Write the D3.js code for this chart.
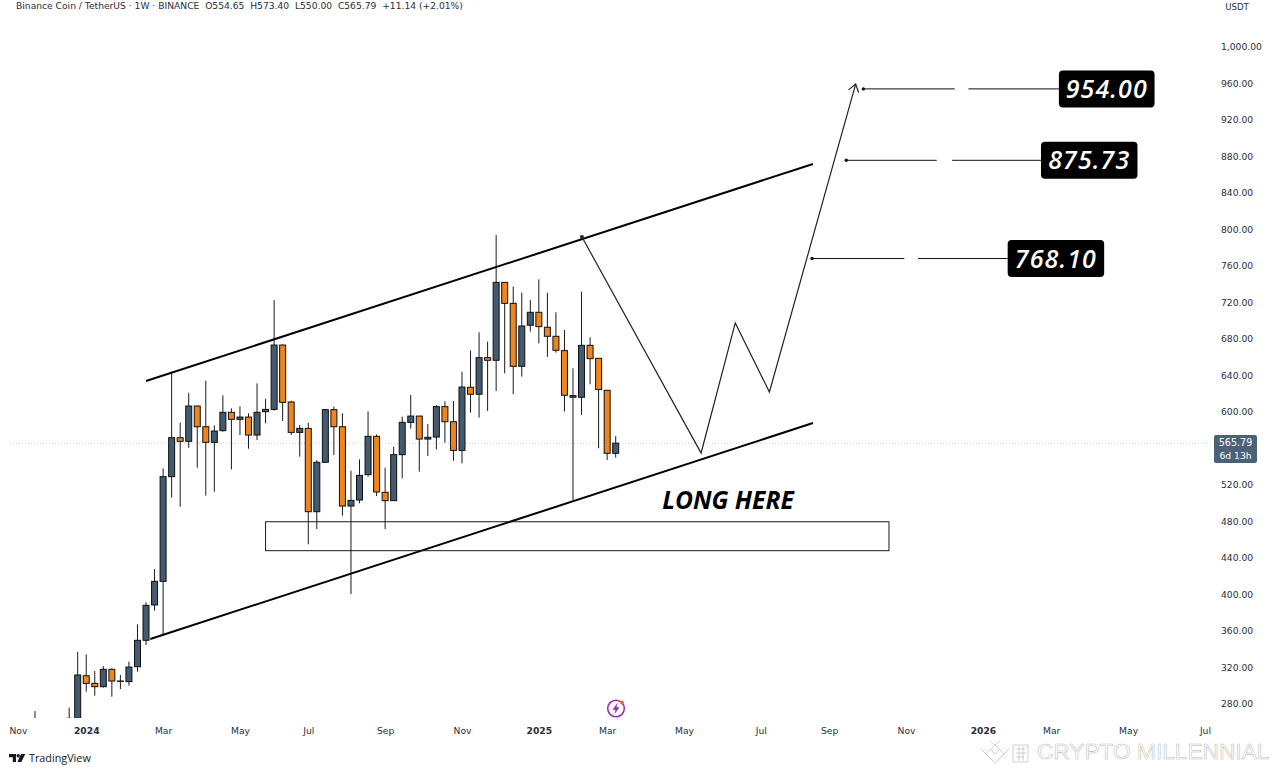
<!DOCTYPE html>
<html><head><meta charset="utf-8">
<script src="https://cdn.jsdelivr.net/npm/d3@7/dist/d3.min.js"></script>
<style>
html,body{margin:0;padding:0;background:#fff;overflow:hidden}
svg{display:block}
.ax text{font-family:"DejaVu Sans",sans-serif;font-size:9.2px;fill:#2a2e39}
</style></head><body>
<svg id="c" width="1280" height="773"></svg>
<script>
const earlyBars=[-5,-1];
const opens=[252,258,264.3,311,302.6,299,318,304.8,304.5,320.9,349.8,388.5,414.4,529.1,571.8,567.8,606.5,583.8,566.7,579.5,599.6,591.9,594.4,574.7,600.3,602.8,673.3,610.9,577.6,582,490.7,544.8,602.5,583.8,496.9,503.5,531.3,573.3,511.9,502.8,553.2,588.6,595.5,570.3,572.5,605.8,589.3,557.9,627,619.4,659.5,656.6,742,719,650,695,709.2,692.8,682.9,667.2,616.1,616.1,673,658.8,623.7,554.65];
const highs=[272.3,276,337.3,334.4,316.1,321.6,319.1,311.8,326.4,367.3,391.4,427.9,538.2,644.1,588.2,621.1,606.9,634.2,585.3,618.2,603.9,606.1,598.5,631.3,614.5,722.7,674,612.3,585.7,588.2,547.3,603.2,605.8,598.5,535.6,548,600.6,575.4,538.9,561.9,594.8,618.5,595.5,586.8,607.6,611.6,612,644.1,667.2,687.3,677.1,793.9,742,737.3,730.7,722.7,745.3,730.7,709.2,689.8,647.8,731.8,681.8,658.8,623.7,573.4];
const lows=[250,256,262,293.5,289.1,298,288,296.4,300.1,315.4,344.6,382.3,355.6,506.1,496.2,560.8,538.9,508.3,512.6,578.5,537.1,574.7,559.7,569.2,587.5,601.4,590.1,574.7,551,455,471.7,544.8,552.8,486.3,400.5,499.9,529.1,507.9,471.7,502.8,527.2,581.7,534.5,551.7,559,566.3,546.6,543.7,599.3,593.8,601.1,623,642.4,619.4,638.7,688,675.2,660.3,665,600.4,503.6,596.7,630.3,560.2,547.4,550];
const closes=[258,264.3,311.8,302.6,299,318,305.2,305.2,320.5,349.8,388.1,414.4,529.1,571.8,567.8,606.5,583.8,566.7,579.1,599.6,591.9,594.4,574.7,599.6,602.8,673.3,610.5,577.6,582,490.7,544.8,602.5,583.8,496.9,503.1,530.5,573.3,512.3,502.8,553.2,588.6,595.5,570.3,572.2,605.8,589.3,557.9,627.3,619.4,659.5,656.6,742,719,650,694.2,709.2,693.5,682.9,667.6,618.3,617.9,673,658.4,624.5,554.7,565.79];

const priceTicks=[280,320,360,400,440,480,520,600,640,680,720,760,800,840,880,920,960,1000];
const timeTickBars=[-7,1,10,19,27,36,45,54,62,71,80,88,97,106,114,123,132];
const timeTickLabels=["Nov","2024","Mar","May","Jul","Sep","Nov","2025","Mar","May","Jul","Sep","Nov","2026","Mar","May","Jul"];
const boldLabels=["2024","2025","2026"];

const upperChannelBars=[8,86.1], upperChannelPrices=[633.9,871.7];
const lowerChannelBars=[8.5,86.1], lowerChannelPrices=[351.2,587.9];
const zoneBars=[22,95], zonePrices=[479.7,448];
const pathBars=[59.05,73,77,81,91.1], pathPrices=[791.7,555,697.5,621.9,959.3];

const targetPrices=[954,875.73,768.10];
const targetLabels=["954.00","875.73","768.10"];
const targetStartBars=[92,90,86];
const targetGapStart=[102.7,100.6,96.8];
const targetGapEnd=[104.3,102.4,98.4];
const targetBoxLeft=[114.9,112.8,108.9];
const targetBoxRight=[126.1,124.1,120.2];

const lastPrice=565.79;
const headerText="Binance Coin / TetherUS · 1W · BINANCE  O554.65  H573.40  L550.00  C565.79  +11.14 (+2.01%)";

const UP="#435a70",DOWN="#ef8420",INK="#101010";
const bars=earlyBars.concat(d3.range(64));
const x=d3.scaleLinear().domain([0,63]).range([77.7,615.7]);
const y=d3.scaleLinear().domain([280,960]).range([704,83.4]);

const svg=d3.select("#c");
svg.append("defs").append("clipPath").attr("id","plot").append("rect").attr("x",0).attr("y",0).attr("width",1212).attr("height",718);
const mk=svg.select("defs").append("marker").attr("id","arrow").attr("viewBox","-8 -6 10 12").attr("refX",0).attr("refY",0)
 .attr("markerUnits","userSpaceOnUse").attr("markerWidth",14).attr("markerHeight",14).attr("orient","auto");
mk.append("path").attr("d","M-6.5,-4.5L0,0L-6.5,4.5").attr("fill","none").attr("stroke","#222").attr("stroke-width",1);

// last price line
svg.append("line").attr("x1",10).attr("x2",1212).attr("y1",y(lastPrice)).attr("y2",y(lastPrice))
 .attr("stroke","#c9ccd2").attr("stroke-width",1).attr("stroke-dasharray","1 2");

// candles
const plot=svg.append("g").attr("clip-path","url(#plot)");
const rows=bars.map((b,i)=>({b,o:opens[i],h:highs[i],l:lows[i],c:closes[i]}));
plot.selectAll("line.w").data(rows).join("line").attr("class","w")
 .attr("x1",d=>x(d.b)).attr("x2",d=>x(d.b)).attr("y1",d=>y(d.h)).attr("y2",d=>y(d.l))
 .attr("stroke","#1a1a1a").attr("stroke-width",1);
plot.selectAll("rect.b").data(rows).join("rect").attr("class","b")
 .attr("x",d=>x(d.b)-3).attr("width",6)
 .attr("y",d=>y(Math.max(d.o,d.c))).attr("height",d=>Math.max(0.4,Math.abs(y(d.o)-y(d.c))))
 .attr("fill",d=>d.c>=d.o?UP:DOWN).attr("stroke",INK).attr("stroke-width",1);

// channels
const chan=(bs,ps)=>svg.append("line").attr("x1",x(bs[0])).attr("x2",x(bs[1])).attr("y1",y(ps[0])).attr("y2",y(ps[1]))
 .attr("stroke","#000").attr("stroke-width",2);
chan(upperChannelBars,upperChannelPrices);
chan(lowerChannelBars,lowerChannelPrices);

// zone
svg.append("rect").attr("x",x(zoneBars[0])).attr("width",x(zoneBars[1])-x(zoneBars[0]))
 .attr("y",y(zonePrices[0])).attr("height",y(zonePrices[1])-y(zonePrices[0]))
 .attr("fill","none").attr("stroke","#1a1a1a").attr("stroke-width",1);

svg.append("text").attr("x",728).attr("y",509).attr("text-anchor","middle")
 .attr("font-family","'Open Sans',sans-serif").attr("font-style","italic").attr("font-weight",700)
 .attr("font-size",24.6).attr("fill","#000").text("LONG HERE");

// forecast
const ln=d3.line().x(d=>x(d[0])).y(d=>y(d[1]));
svg.append("path").attr("d",ln(d3.zip(pathBars,pathPrices))).attr("fill","none").attr("stroke","#222").attr("stroke-width",1.2)
 .attr("marker-end","url(#arrow)");
svg.append("circle").attr("cx",x(pathBars[0])).attr("cy",y(pathPrices[0])).attr("r",2).attr("fill","#222");

// targets
targetPrices.forEach((p,i)=>{
 const g=svg.append("g"), yy=y(p);
 g.append("circle").attr("cx",x(targetStartBars[i])).attr("cy",yy).attr("r",1.7).attr("fill","#111");
 g.append("line").attr("x1",x(targetStartBars[i])).attr("x2",x(targetGapStart[i])).attr("y1",yy).attr("y2",yy).attr("stroke","#111");
 g.append("line").attr("x1",x(targetGapEnd[i])).attr("x2",x(targetBoxLeft[i])).attr("y1",yy).attr("y2",yy).attr("stroke","#111");
 const l=x(targetBoxLeft[i]),r=x(targetBoxRight[i]);
 g.append("rect").attr("x",l).attr("width",r-l).attr("y",yy-18.5).attr("height",37).attr("rx",4).attr("fill","#000");
 g.append("text").attr("x",(l+r)/2).attr("y",yy+9).attr("text-anchor","middle")
  .attr("font-family","'Open Sans',sans-serif").attr("font-style","italic").attr("font-weight",600)
  .attr("font-size",25).attr("letter-spacing",1.1).attr("fill","#fff").text(targetLabels[i]);
});

// axes
const yAxis=d3.axisRight(y).tickValues(priceTicks).tickFormat(d3.format(",.2f")).tickSize(0).tickPadding(0);
const ya=svg.append("g").attr("class","ax").attr("transform","translate(1221,0)").call(yAxis);
ya.select(".domain").remove();
const xAxis=d3.axisBottom(x).tickValues(timeTickBars).tickFormat((d,i)=>timeTickLabels[i]).tickSize(0).tickPadding(0);
const xa=svg.append("g").attr("class","ax").attr("transform","translate(0,727)").call(xAxis);
xa.select(".domain").remove();
xa.selectAll("text").style("font-weight",function(){return boldLabels.includes(this.textContent)?700:400});

const T=(s,xx,yy,o={})=>svg.append("text").attr("x",xx).attr("y",yy).attr("font-family",o.f||"'DejaVu Sans',sans-serif")
 .attr("font-size",o.s||9.2).attr("fill",o.c||"#2a2e39").attr("text-anchor",o.a||"start").attr("font-weight",o.w||400)
 .style("white-space","pre").text(s);
T(headerText,16,9,{s:9.17});
T("USDT",1237,10,{a:"middle",s:8.6});

// last price tag
svg.append("rect").attr("x",1214).attr("y",435).attr("width",43).attr("height",28).attr("rx",2).attr("fill","#4a6178");
T(lastPrice.toFixed(2),1235.5,446,{a:"middle",c:"#fff",s:9.6});
T("6d 13h",1235.5,459,{a:"middle",c:"#fff",s:9.2});

// lightning badge
const bg=svg.append("g").attr("transform","translate(616,708.5)");
bg.append("circle").attr("r",8.3).attr("fill","#fff").attr("stroke","#9c27b0").attr("stroke-width",1.5);
bg.append("path").attr("d","M1.8,-6L-3.5,1.2H-0.4L-1.8,6L3.5,-1.2H0.4Z").attr("fill","#9c27b0");
bg.append("circle").attr("cx",6).attr("cy",-6).attr("r",2).attr("fill","#e8701a");

// TradingView logo
const tv=svg.append("g").attr("transform","translate(9,754)").attr("fill","#131722");
tv.append("path").attr("d","M0,0H7V8H3.8V3.2H0Z");
tv.append("circle").attr("cx",9.2).attr("cy",1.7).attr("r",1.7);
tv.append("path").attr("d","M12,0H16.3L12.3,8H8.4Z");
T("TradingView",29,762,{f:"'Open Sans',sans-serif",s:10.8,c:"#131722"});

// watermark
const wm=svg.append("g").attr("fill","none").attr("stroke","#c4c4c4").attr("stroke-width",0.8);
wm.append("path").attr("d","M981,749L986,754L991,749L995,745L999,749L1004,754L1009,749M986,754L995,763L1004,754M995,745L990,741M995,745L1000,741M990,749L995,754L1000,749");
wm.append("path").attr("d","M1013,745H1028V762H1013ZM1016,749H1025M1016,753H1026M1016,757H1024M1019,746V761M1023,746V761");
wm.append("text").attr("x",1037).attr("y",759).attr("font-family","'Liberation Sans',sans-serif").attr("font-size",22.7)
 .attr("stroke","#bdbdbd").attr("stroke-width",0.55).text("CRYPTO MILLENNIAL");
</script></body></html>
